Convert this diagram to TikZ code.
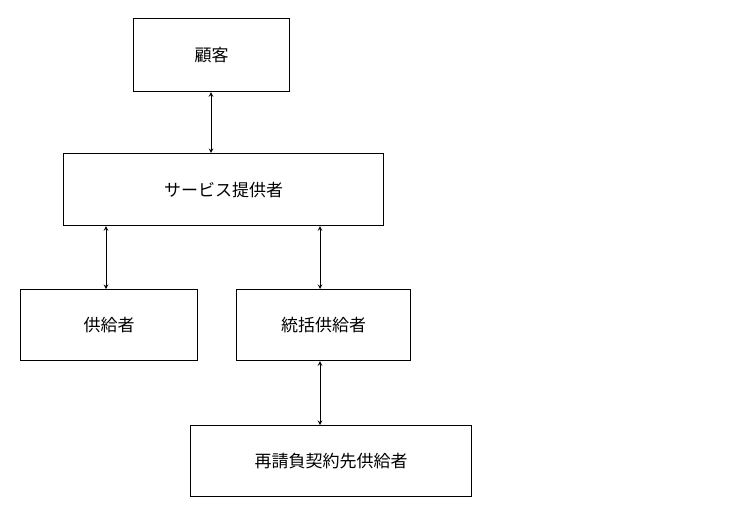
\documentclass[tikz,border=0pt]{standalone}
\usepackage{fontspec}
\newfontfamily\cjk{Noto Sans CJK JP}
\begin{document}
\begin{tikzpicture}[x=1pt,y=-1pt,
 box/.style={draw,line width=1.2pt,inner sep=0pt,anchor=north west,font=\cjk\fontsize{17}{20}\selectfont},
 arr/.style={<->,line width=1pt,>=stealth}]
\useasboundingbox (0,0) rectangle (752,520);
\node[box,minimum width=156pt,minimum height=73pt] (a) at (133,18) {顧客};
\node[box,minimum width=320pt,minimum height=72pt] (b) at (63,153) {サービス提供者};
\node[box,minimum width=177pt,minimum height=71pt] (c) at (20,289) {供給者};
\node[box,minimum width=174pt,minimum height=71pt] (d) at (236,289) {統括供給者};
\node[box,minimum width=281pt,minimum height=71pt] (e) at (190,425) {再請負契約先供給者};
\draw[arr] (a.south -| 211,0) -- (b.north -| 211,0);
\draw[arr] (b.south -| 106,0) -- (c.north -| 106,0);
\draw[arr] (b.south -| 320,0) -- (d.north -| 320,0);
\draw[arr] (d.south -| 320,0) -- (e.north -| 320,0);
\end{tikzpicture}
\end{document}
